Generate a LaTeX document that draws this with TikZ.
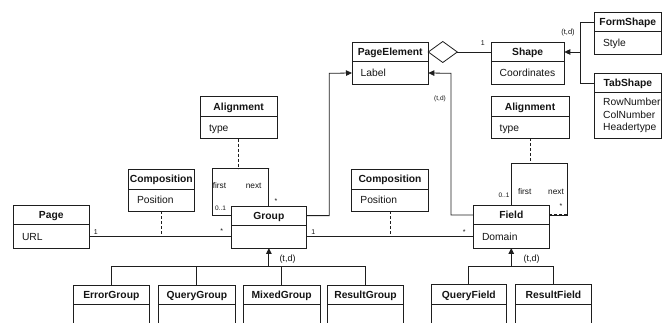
\documentclass[tikz,border=0pt]{standalone}
\usepackage{fontspec}
\setmainfont{Liberation Sans}
\usetikzlibrary{shapes.geometric,arrows.meta}
\definecolor{linec}{RGB}{30,30,30}
\definecolor{txtc}{RGB}{20,20,20}
\tikzset{
  ln/.style={line width=0.8pt, draw=linec},
  boxs/.style={ln, rectangle, inner sep=0pt, outer sep=0pt, anchor=north west},
  ttl/.style={font=\fontsize{10.3}{12}\selectfont\bfseries, inner sep=0pt, anchor=base, text=txtc},
  att/.style={font=\fontsize{10.3}{12.5}\selectfont, inner sep=0pt, anchor=base west, align=left, text=txtc},
  sm/.style={font=\fontsize{7}{8}\selectfont, inner sep=0pt, text=txtc},
  rl/.style={font=\fontsize{8.3}{9}\selectfont, inner sep=0pt, text=txtc},
  dsh/.style={draw=linec, line width=1pt, dash pattern=on 3pt off 2pt},
  inh/.style={ln, -{Triangle[length=6pt,width=5.5pt]}},
}
\newcommand\umlbox[8]{%
  \node[boxs, minimum width={#4-#2}, minimum height={#6-#3}] (#1) at (#2,#3) {};
  \draw[ln] (#2,#5) -- (#4,#5);
  \coordinate (#1-h) at ({(#2+#4)/2},{(#3+#5)/2});
  \coordinate (#1-a) at ({(#2+#4)/2},{(#5+#6)/2});
  \node[ttl] (#1-t) at ({(#2+#4)/2},{(#3+#5)/2+3.7}) {#7};
  \node[att] (#1-l) at ({#2+8.5},{(#5+#6)/2+3.7}) {#8};
}
\begin{document}
\begin{tikzpicture}[x=1pt,y=-1pt]
\useasboundingbox (0,0) rectangle (662,323);
\clip (0,0) rectangle (662,323);
% boxes
\umlbox{PageElement}{352}{42.3}{428.3}{61.7}{84.3}{PageElement}{Label}
\umlbox{Shape}{491}{42.3}{564.3}{61.7}{84.3}{Shape}{Coordinates}
\umlbox{FormShape}{594.3}{12.3}{661.3}{31.7}{54}{FormShape}{Style}
\umlbox{TabShape}{594.3}{73.3}{661.3}{92.7}{138.3}{TabShape}{}
\node[att, anchor=west] (TabShape-l2) at (603,115.5) {RowNumber\\ColNumber\\Headertype};
\umlbox{AlignG}{200.3}{96.7}{277}{116.3}{138.7}{Alignment}{type}
\umlbox{AlignF}{491}{96.7}{569}{116.7}{138.3}{Alignment}{type}
\umlbox{CompG}{128.3}{169.3}{194.3}{189.3}{211.3}{Composition}{Position}
\umlbox{CompF}{351.7}{169.3}{428.3}{189.3}{211.3}{Composition}{Position}
\umlbox{Page}{13.3}{205.7}{89.3}{224.5}{248.3}{Page}{URL}
\umlbox{Group}{231.7}{206}{306}{225.3}{248}{Group}{}
\umlbox{Field}{473.3}{205.3}{549.3}{224.7}{248}{Field}{Domain}
\umlbox{ErrorGroup}{73.3}{285.5}{149.3}{304.3}{340}{ErrorGroup}{}
\umlbox{QueryGroup}{158.7}{285.5}{235}{304.3}{340}{QueryGroup}{}
\umlbox{MixedGroup}{243.3}{285.5}{320}{304.3}{340}{MixedGroup}{}
\umlbox{ResultGroup}{327.3}{285.5}{403.7}{304.3}{340}{ResultGroup}{}
\umlbox{QueryField}{431}{284.7}{506.7}{304}{340}{QueryField}{}
\umlbox{ResultField}{515.3}{284.7}{591.7}{304}{340}{ResultField}{}
% aggregation PageElement - Shape
\node[diamond, ln, minimum width=29pt, minimum height=21pt, inner sep=0pt, outer sep=0pt, anchor=west] (agg) at (PageElement.east |- PageElement-h) {};
\draw[ln] (agg.east) -- (Shape.west |- agg.east);
\node[sm] (one0) at (482.7,43) {1};
% Shape subclasses
\coordinate (sj) at (580.7,52);
\draw[inh] (FormShape.west |- FormShape-h) -| (sj) -- (Shape.east |- Shape-h);
\draw[ln] (TabShape.west |- TabShape-h) -| (sj);
\node[sm, font=\fontsize{7.5}{8}\selectfont] (td0) at (568,33) {(t,d)};
% Group / Field -> PageElement
\coordinate (gpk) at (329.3,73.3);
\coordinate (fpk) at (451,73.3);
\draw[inh] (Group.east |- Group-h) -| (gpk) -- (PageElement.west |- PageElement-a);
\draw[inh] (Field.west |- Field-h) -| (fpk) -- (PageElement.east |- PageElement-a);
\node[sm, font=\fontsize{6.5}{7}\selectfont] (td1) at (440,99) {(t,d)};
% Page - Group association with Composition
\draw[ln] (Page.east |- Group-a) -- (Group.west |- Group-a);
\draw[dsh] (CompG.south) -- (CompG.south |- Group-a) -- (Group.west |- Group-a);
\node[sm] (pg1) at (95.7,232.3) {1};
\node[sm] (pg2) at (221.7,231.5) {*};
% Group - Field association with Composition
\draw[ln] (Group.east |- Group-a) -- (Field.west |- Group-a);
\draw[dsh] (CompF.south) -- (CompF.south |- Group-a) -- (Field.west |- Group-a);
\node[sm] (gf1) at (313.3,232.3) {1};
\node[sm] (gf2) at (464.3,232.3) {*};
% Group self loop with Alignment
\coordinate (gl) at (212,168.7);
\draw[ln] (Group.west |- Group-h) -| (gl) -- (gl -| Group.north) -- (Group.north);
\draw[dsh] (AlignG.south) -- (AlignG.south |- gl) -- (gl -| Group.north) -- (Group.north);
\node[rl] (gfirst) at (219.5,186) {first};
\node[rl] (gnext) at (253.7,186) {next};
\node[sm, font=\fontsize{6.5}{7}\selectfont] (g01) at (220.5,208.7) {0..1};
\node[sm] (gst) at (276,201.5) {*};
% Field self loop with Alignment
\coordinate (fl) at (567.7,163.3);
\draw[ln] (Field.north) -- (Field.north |- fl) -- (fl) -- (fl |- Field-h) -- (Field.east |- Field-h);
\draw[dsh] (AlignF.south) -- (AlignF.south |- fl) -- (fl) -- (fl |- Field-h) -- (Field.east |- Field-h);
\node[sm, font=\fontsize{6.5}{7}\selectfont] (f01) at (504,195.3) {0..1};
\node[rl] (ffirst) at (524.7,192) {first};
\node[rl] (fnext) at (556,192) {next};
\node[sm] (fst) at (561,206.5) {*};
% Group subclasses
\coordinate (gb) at (0,266.5);
\draw[ln] (ErrorGroup.north) |- (ResultGroup.north |- gb) -- (ResultGroup.north);
\draw[ln] (QueryGroup.north) -- (QueryGroup.north |- gb);
\draw[ln] (MixedGroup.north) -- (MixedGroup.north |- gb);
\draw[inh, line width=1.2pt] (Group.south |- gb) -- (Group.south);
\node[rl, font=\fontsize{9}{10}\selectfont] (td2) at (287.5,258.7) {(t,d)};
% Field subclasses
\draw[ln] (QueryField.north) |- (ResultField.north |- gb) -- (ResultField.north);
\draw[inh, line width=1.2pt] (Field.south |- gb) -- (Field.south);
\node[rl, font=\fontsize{9}{10}\selectfont] (td3) at (531.5,258.7) {(t,d)};
\end{tikzpicture}
\end{document}
